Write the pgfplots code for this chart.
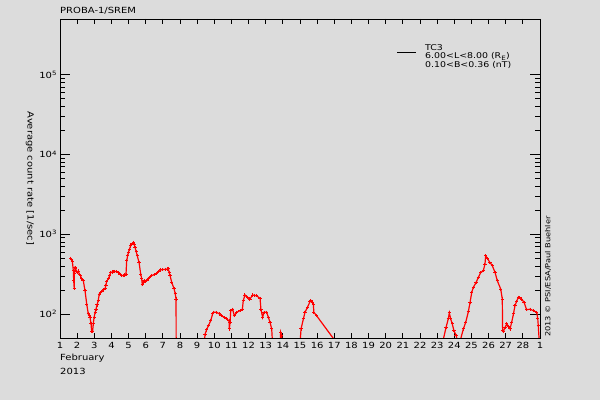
\documentclass[border=0pt]{standalone}
\usepackage{pgfplots}
\pgfplotsset{compat=1.18}
\usepackage{fontspec}
\setmainfont{DejaVu Sans}[FakeStretch=1.18]
\definecolor{bg}{RGB}{220,220,220}
\pgfplotstableread{
x y
1.62 501
1.66 480
1.72 456
1.78 347
1.80 260
1.83 209
1.84 320
1.88 380
1.91 372
1.96 340
2.01 331
2.06 345
2.13 316
2.20 300
2.26 275
2.31 268
2.36 261
2.46 195
2.56 133
2.65 100
2.70 96
2.75 91
2.81 75
2.85 60
2.90 60
2.94 75
2.99 91
3.05 105
3.10 115
3.16 130
3.23 147
3.29 178
3.36 185
3.43 190
3.53 200
3.63 209
3.68 230
3.72 253
3.82 279
3.90 300
3.96 331
4.04 336
4.11 338
4.20 342
4.31 338
4.40 330
4.50 316
4.60 305
4.69 302
4.77 308
4.85 316
4.89 464
4.95 540
4.99 590
5.05 650
5.12 713
5.20 760
5.28 790
5.33 740
5.38 680
5.45 600
5.51 535
5.61 443
5.71 316
5.76 280
5.80 237
5.85 250
5.90 261
6.00 258
6.06 261
6.15 275
6.21 287
6.35 302
6.50 312
6.64 323
6.75 340
6.87 357
7.00 360
7.13 363
7.25 366
7.32 372
7.37 330
7.42 302
7.52 248
7.65 209
7.72 180
7.77 154
7.78 20
9.32 20
9.46 56
9.55 63
9.65 71
9.79 82
9.90 100
9.98 105
10.14 105
10.30 100
10.43 95
10.60 90
10.72 87
10.86 82
10.88 65
10.92 79
10.96 110
11.07 115
11.17 95
11.31 105
11.50 110
11.64 115
11.69 147
11.79 173
11.93 162
12.08 154
12.24 173
12.35 171
12.47 169
12.67 157
12.72 115
12.82 91
12.90 105
13.06 105
13.15 91
13.25 79
13.35 65
13.48 20
13.83 20
13.87 59
13.93 54
14.00 20
14.90 20
15.06 65
15.20 87
15.29 105
15.43 121
15.58 142
15.64 147
15.72 140
15.78 130
15.81 105
15.97 95
17.05 46
23.33 45
23.52 68
23.65 87
23.71 103
23.79 87
23.88 75
23.98 62
24.10 54
24.20 45
24.33 45
24.53 65
24.67 79
24.82 107
24.92 140
25.02 187
25.11 215
25.27 248
25.40 287
25.54 331
25.69 347
25.79 422
25.83 535
25.93 497
26.08 443
26.22 402
26.38 331
26.51 261
26.71 205
26.80 154
26.82 62
26.86 60
26.96 68
27.06 75
27.15 70
27.25 65
27.35 79
27.45 100
27.54 127
27.64 145
27.74 162
27.83 160
27.93 154
28.07 140
28.22 113
28.42 115
28.61 110
28.81 105
28.87 87
28.90 71
28.97 40
}\srem
\begin{document}
\fontsize{8.5}{10}\selectfont
\begin{tikzpicture}
\fill[bg] (-60bp,-62bp) rectangle (540bp,338bp);
\begin{axis}[
  at={(0bp,0bp)}, anchor=south west,
  scale only axis, width=480bp, height=319bp,
  xmin=1, xmax=29, ymode=log, ymin=50, ymax=5e5,
  xtick={1,...,29},
  xticklabels={1,2,3,4,5,6,7,8,9,10,11,12,13,14,15,16,17,18,19,20,21,22,23,24,25,26,27,28,1},
  ytick={100,1000,10000,100000},
  yticklabels={10\textsuperscript{2},10\textsuperscript{3},10\textsuperscript{4},10\textsuperscript{5}},
  tick align=inside,
  major tick length=10bp, minor tick length=5bp,
  xtick style={/pgfplots/major tick length=5bp},
  every tick/.style={black, line width=0.8bp},
  axis line style={black, line width=0.9bp},
  tick label style={font=\fontsize{8.5}{10}\selectfont},
  xticklabel style={yshift=-1bp},
  clip=true,
]
\addplot[red, line width=1.2bp, mark=+, mark size=1.6bp, mark options={line width=1bp}] table[x=x,y=y] {\srem};
\end{axis}
\node[anchor=west, inner sep=0pt] at (0bp,327bp) {PROBA-1/SREM};
\node[anchor=west, inner sep=0pt] at (0bp,-20.5bp) {February};
\node[anchor=west, inner sep=0pt] at (0bp,-33bp) {2013};
\node[rotate=-90, inner sep=0pt] at (-30bp,159.5bp) {Average count rate [1/sec]};
\node[rotate=90, anchor=west, inner sep=0pt, font=\fontsize{7}{8}\selectfont] at (488bp,1bp) {2013 © PSI/ESA/Paul Buehler};
\draw[black, line width=0.9bp] (337bp,286bp) -- (356bp,286bp);
\node[anchor=west, inner sep=0pt, font=\fontsize{8}{9}\selectfont] at (365bp,290bp) {TC3};
\node[anchor=west, inner sep=0pt, font=\fontsize{8}{9}\selectfont] at (365bp,281.5bp) {6.00<L<8.00 (R\textsubscript{E})};
\node[anchor=west, inner sep=0pt, font=\fontsize{8}{9}\selectfont] at (365bp,273bp) {0.10<B<0.36 (nT)};
\pgfresetboundingbox
\path[use as bounding box] (-60bp,-62bp) rectangle (540bp,338bp);
\end{tikzpicture}
\end{document}
